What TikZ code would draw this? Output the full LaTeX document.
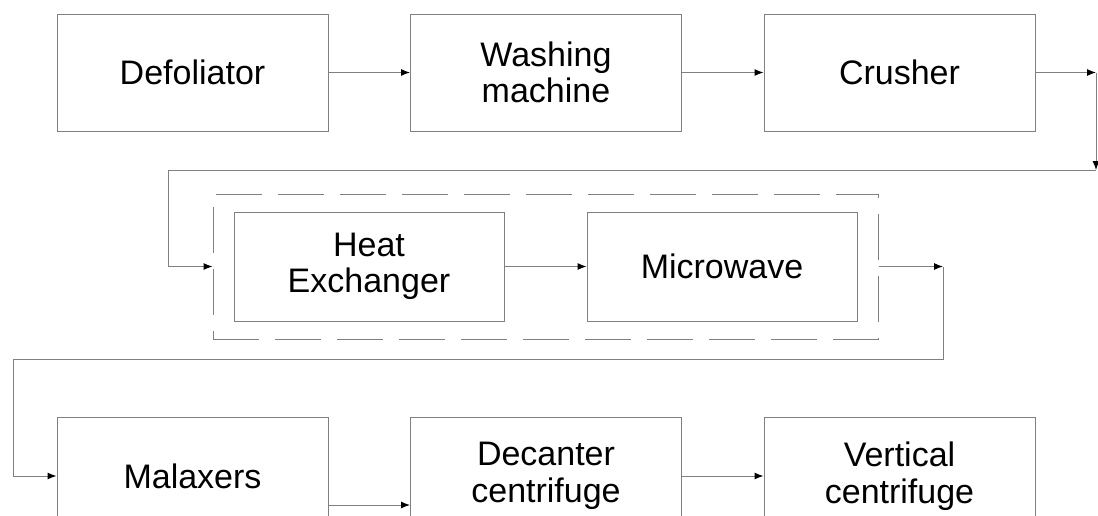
\documentclass[tikz,border=0pt]{standalone}
\usepackage{fontspec}
\setmainfont{Liberation Sans}
\usetikzlibrary{arrows.meta}
\begin{document}
\begin{tikzpicture}[x=1pt,y=-1pt,
  ln/.style={draw=black!50,line width=1pt},
  arr/.style={ln,-{Latex[length=9pt,width=7pt,black]}},
  proc/.style={ln,minimum width=271pt,minimum height=117pt,inner sep=0pt,
    align=center,font=\fontsize{34}{36.5}\selectfont},
  inproc/.style={proc,minimum width=270pt,minimum height=109pt},
  grpbox/.style={draw=black!50,line width=1pt,dash pattern=on 46pt off 16pt,
    minimum width=665pt,minimum height=145pt,inner sep=0pt}]
\useasboundingbox (0,0) rectangle (1098,515);
\clip (0,0) rectangle (1098,515);
\node[proc] (def) at (192.5,72.5) {Defoliator};
\node[proc] (wash) at (546,72.5) {Washing\\machine};
\node[proc] (crush) at (899.5,72.5) {Crusher};
\node[grpbox] (grp) at (545.5,266.5) {};
\node[inproc] (he) at (369,266.5) {Heat\\Exchanger};
\node[inproc] (mw) at (722,266.5) {Microwave};
\node[proc] (mal) at (192.5,476) {Malaxers};
\node[proc] (dec) at (546,476) {Decanter\\centrifuge};
\node[proc] (vert) at (899.5,476) {Vertical\\centrifuge};
\coordinate (c1) at (1096,72.5);
\coordinate (c2) at (1096,170);
\coordinate (c3) at (168,170);
\coordinate (d1) at (943,266.5);
\coordinate (d2) at (943,359);
\coordinate (d3) at (13,359);
\draw[arr] (def.east) -- (wash.west);
\draw[arr] (wash.east) -- (crush.west);
\draw[arr] (crush.east) -- (c1);
\draw[arr] (c1) -- (c2);
\draw[arr] (c2) -- (c3) |- (grp.west);
\draw[arr] (he.east) -- (mw.west);
\draw[arr] (grp.east) -- (d1);
\draw[arr] (d1) -- (d2) -- (d3) |- (mal.west);
\draw[arr] ([yshift=-29pt]mal.east) -- ([yshift=-29pt]dec.west);
\draw[arr] (dec.east) -- (vert.west);
\end{tikzpicture}
\end{document}
